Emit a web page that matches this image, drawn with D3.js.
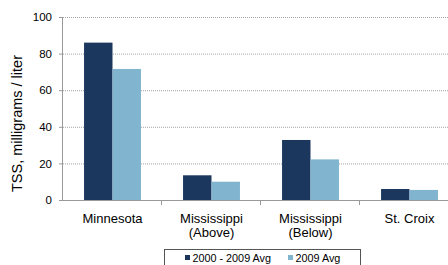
<!DOCTYPE html>
<html>
<head>
<meta charset="utf-8">
<script src="https://cdn.jsdelivr.net/npm/d3@7"></script>
<style>
  body { margin: 0; background: #fff; }
  svg { display: block; font-family: "Liberation Sans", Arial, sans-serif; }
</style>
</head>
<body>
<div class="chart_container"></div>
<script>
var categories = [["Minnesota"], ["Mississippi", "(Above)"], ["Mississippi", "(Below)"], ["St. Croix"]];
var seriesNames = ["2000 - 2009 Avg", "2009 Avg"];
var avg2000to2009 = [86, 13.5, 32.8, 6];
var avg2009 = [71.6, 10, 22.2, 5.5];
var yTicks = [0, 20, 40, 60, 80, 100];
var colors = ["#1b375e", "#80b4cf"];

var W = 448, H = 265;
var margin = {top: 17, right: -11, bottom: 65, left: 63};
var width = W - margin.left - margin.right,
    height = H - margin.top - margin.bottom;

var svg = d3.select(".chart_container").append("svg")
    .attr("width", W)
    .attr("height", H);
var g = svg.append("g").attr("transform", "translate(" + margin.left + "," + margin.top + ")");

var x = d3.scaleBand()
    .domain(d3.range(categories.length))
    .range([0, width])
    .paddingInner(0).paddingOuter(0);
var x1 = d3.scaleBand()
    .domain(d3.range(seriesNames.length))
    .range([0, x.bandwidth()])
    .paddingOuter(0.74).paddingInner(0);
var y = d3.scaleLinear().domain([0, 100]).range([height, 0]);

// dotted gridlines
g.selectAll(".grid")
    .data(yTicks.filter(function(d){ return d > 0; }))
    .enter().append("line")
    .attr("x1", 0).attr("x2", width)
    .attr("y1", function(d){ return y(d) + 0.5; })
    .attr("y2", function(d){ return y(d) + 0.5; })
    .attr("stroke", "#a6a6a6")
    .attr("stroke-dasharray", "1,1");

var values = [avg2000to2009, avg2009];
var groups = g.selectAll(".cat")
    .data(categories)
    .enter().append("g")
    .attr("transform", function(d, i){ return "translate(" + x(i) + ",0)"; });
groups.selectAll("rect")
    .data(function(d, i){ return values.map(function(v, s){ return {s: s, v: v[i]}; }); })
    .enter().append("rect")
    .attr("x", function(d){ return x1(d.s); })
    .attr("width", x1.bandwidth())
    .attr("y", function(d){ return y(d.v); })
    .attr("height", function(d){ return height - y(d.v); })
    .attr("fill", function(d){ return colors[d.s]; });

// y axis
var yAxis = g.append("g")
    .call(d3.axisLeft(y).tickValues(yTicks).tickSize(4).tickPadding(7));
yAxis.select(".domain").attr("stroke", "#999").attr("d", "M-0.5," + (height + 0.5) + "V0.5");
yAxis.selectAll(".tick line").attr("stroke", "#999");
yAxis.selectAll("text")
    .attr("font-size", "11.5px")
    .attr("fill", "#000")
    .attr("font-family", "Liberation Sans, Arial, sans-serif");

// x axis
var xAxis = g.append("g").attr("transform", "translate(0," + height + ")");
xAxis.append("line")
    .attr("x1", -4).attr("x2", width)
    .attr("y1", 0.5).attr("y2", 0.5)
    .attr("stroke", "#999");
xAxis.selectAll(".xtick")
    .data(d3.range(1, categories.length))
    .enter().append("line")
    .attr("x1", function(d){ return x(d) - 0.5; })
    .attr("x2", function(d){ return x(d) - 0.5; })
    .attr("y1", 0).attr("y2", 5)
    .attr("stroke", "#999");
var lbl = xAxis.selectAll(".xlabel")
    .data(categories)
    .enter().append("text")
    .attr("text-anchor", "middle")
    .attr("font-size", "13px")
    .attr("fill", "#000")
    .attr("x", function(d, i){ return x(i) + x.bandwidth() / 2; });
lbl.selectAll("tspan")
    .data(function(d){ return d; })
    .enter().append("tspan")
    .attr("x", function(){ return d3.select(this.parentNode).attr("x"); })
    .attr("y", function(d, i){ return 23 + i * 14; })
    .text(function(d){ return d; });

// y title
svg.append("text")
    .attr("transform", "translate(22," + 123.5 + ") rotate(-90)")
    .attr("text-anchor", "middle")
    .attr("font-size", "14.5px")
    .attr("fill", "#000")
    .text("TSS, milligrams / liter");

// legend
var legend = svg.append("g").attr("transform", "translate(164.5,249.5)");
legend.append("rect")
    .attr("width", 196).attr("height", 30)
    .attr("fill", "#fff")
    .attr("stroke", "#555");
var li = legend.selectAll(".li")
    .data(seriesNames)
    .enter().append("g")
    .attr("transform", function(d, i){ return "translate(" + (i === 0 ? 20.5 : 123.5) + ",0)"; });
li.append("rect")
    .attr("y", 5.5).attr("width", 5).attr("height", 5)
    .attr("fill", function(d, i){ return colors[i]; });
li.append("text")
    .attr("x", 7.5).attr("y", 12.5)
    .attr("font-size", "10.8px")
    .attr("fill", "#000")
    .text(function(d){ return d; });
</script>
</body>
</html>
